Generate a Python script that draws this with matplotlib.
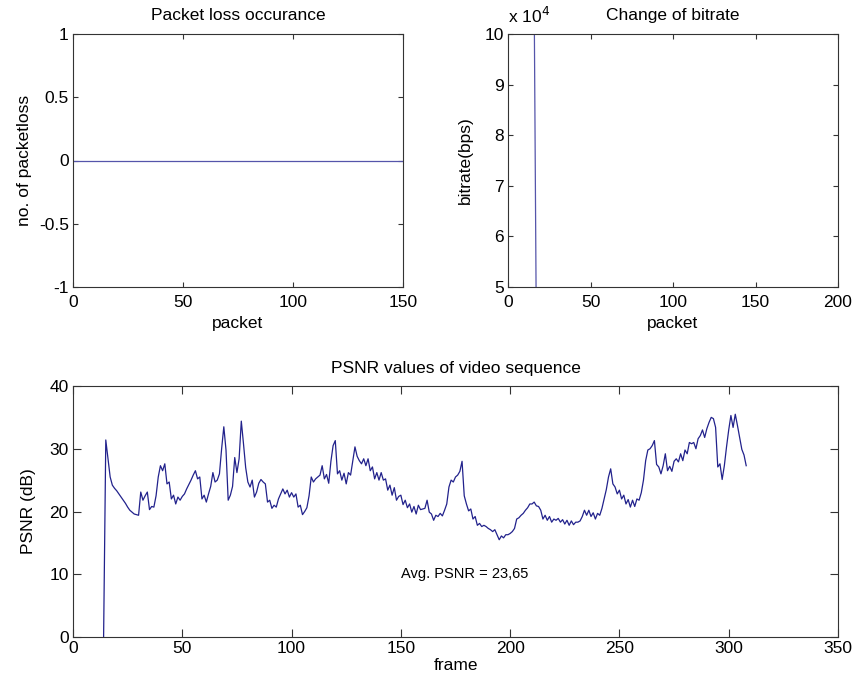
import matplotlib
matplotlib.use("Agg")
import matplotlib.pyplot as plt
from matplotlib.ticker import FuncFormatter, FixedLocator

plt.rcParams['font.family'] = ['Liberation Sans', 'DejaVu Sans']
plt.rcParams['axes.unicode_minus'] = False
plt.rcParams['font.size'] = 12.5

# ---- data ----
loss_packets = list(range(0, 151))
loss_counts = [0] * 151

bitrate_packets = [14, 15, 16, 17, 18]
bitrate_values = [200000, 150000, 100000, 50000, 0]

psnr_start_frame = 14
psnr_values = [
    0.0, 31.4, 28.5, 25.5, 24.2, 23.7, 23.3, 22.8, 22.3, 21.8,   # 14-23
    21.3, 20.7, 20.2, 19.9, 19.6, 19.5, 19.4, 23.1, 21.8, 22.5,   # 24-33
    23.1, 20.3, 20.8, 20.7, 22.5, 25.5, 27.3, 26.5, 27.6, 24.4,   # 34-43
    24.7, 22.0, 22.6, 21.2, 22.3, 21.8, 22.4, 22.8, 23.6, 24.3,   # 44-53
    25.0, 25.8, 26.5, 25.2, 25.5, 22.0, 22.6, 21.5, 22.8, 24.0,   # 54-63
    26.2, 24.7, 25.0, 26.0, 30.0, 33.5, 29.8, 21.8, 22.6, 24.0,   # 64-73
    28.6, 26.2, 28.4, 34.4, 30.8, 27.0, 24.7, 23.9, 25.0, 22.3,   # 74-83
    23.1, 24.5, 25.1, 24.7, 24.4, 21.5, 21.8, 20.5, 21.0, 20.7,   # 84-93
    22.0, 22.8, 23.6, 22.8, 23.4, 22.3, 23.0, 22.3, 22.8, 20.7,   # 94-103
    21.0, 19.5, 20.0, 20.6, 22.5, 25.5, 24.7, 25.2, 25.5, 25.8,   # 104-113
    27.3, 25.2, 25.9, 24.5, 28.0, 30.5, 31.3, 26.0, 26.5, 25.0,   # 114-123
    26.1, 24.4, 26.2, 25.8, 28.1, 30.3, 28.8, 28.1, 27.6, 28.4,   # 124-133
    27.3, 28.4, 26.5, 27.1, 25.2, 26.2, 25.0, 26.2, 25.0, 25.2,   # 134-143
    23.4, 24.2, 22.6, 23.8, 21.8, 22.4, 22.6, 21.1, 21.8, 20.6,   # 144-153
    21.2, 19.9, 20.8, 19.6, 21.0, 20.3, 20.4, 20.5, 21.8, 19.9,   # 154-163
    19.6, 18.6, 19.4, 19.2, 19.7, 19.3, 20.2, 21.2, 23.9, 25.0,   # 164-173
    24.7, 25.5, 25.8, 26.4, 28.0, 22.5, 21.2, 20.1, 20.4, 18.8,   # 174-183
    19.2, 17.8, 18.1, 17.6, 17.8, 17.6, 17.3, 17.1, 16.8, 17.1,   # 184-193
    16.3, 15.5, 16.1, 15.8, 16.3, 16.3, 16.5, 16.8, 17.3, 18.8,   # 194-203
    19.0, 19.4, 19.7, 20.2, 20.6, 21.2, 21.2, 21.5, 20.9, 20.8,   # 204-213
    20.2, 18.8, 19.4, 18.6, 19.2, 18.3, 18.8, 18.6, 18.9, 18.3,   # 214-223
    18.7, 18.0, 18.6, 17.8, 18.5, 17.9, 18.3, 18.3, 18.5, 19.2,   # 224-233
    20.2, 19.4, 20.2, 19.2, 19.8, 18.8, 19.7, 19.4, 20.5, 22.0,   # 234-243
    23.5, 25.5, 26.8, 24.4, 23.9, 22.8, 23.4, 22.0, 22.6, 21.2,   # 244-253
    21.9, 20.7, 21.8, 20.8, 22.0, 21.8, 23.0, 25.0, 28.1, 29.8,   # 254-263
    30.0, 30.5, 31.3, 27.5, 27.1, 26.0, 27.3, 29.2, 26.5, 27.2,   # 264-273
    26.4, 28.0, 28.4, 27.9, 29.2, 28.1, 29.8, 29.2, 31.0, 30.8,   # 274-283
    31.0, 30.0, 31.6, 32.1, 33.0, 31.8, 33.2, 34.2, 35.0, 34.8,   # 284-293
    33.4, 27.1, 27.6, 25.1, 27.3, 30.3, 33.0, 35.3, 33.4, 35.5,   # 294-303
    33.7, 31.8, 29.9, 29.0, 27.3,                                 # 304-308
]
psnr_frames = list(range(psnr_start_frame, psnr_start_frame + len(psnr_values)))
avg_psnr_label = "Avg. PSNR = 23,65"

loss_yticks = [-1, -0.5, 0, 0.5, 1]
loss_xticks = [0, 50, 100, 150]
bitrate_yticks = [50000, 60000, 70000, 80000, 90000, 100000]
bitrate_xticks = [0, 50, 100, 150, 200]
psnr_xticks = [0, 50, 100, 150, 200, 250, 300, 350]
psnr_yticks = [0, 10, 20, 30, 40]

# ---- figure ----
W, H = 860, 687
fig = plt.figure(figsize=(W / 100, H / 100), dpi=100)
line_color = '#22228c'
FS = 12.5

def style(ax, tlen):
    ax.tick_params(direction='in', top=True, right=True, length=tlen, width=0.8,
                   labelsize=FS, colors='#333333', labelcolor='black')
    ax.tick_params(axis='x', pad=6)
    ax.tick_params(axis='y', pad=3)
    for s in ax.spines.values():
        s.set_color('#333333')
        s.set_linewidth(0.8)

g = FuncFormatter(lambda v, p: '%g' % v)

ax1 = fig.add_axes([73 / W, 1 - 287 / H, 330 / W, 253 / H])
ax1.plot(loss_packets, loss_counts, color='#5555aa', lw=0.9)
ax1.set_xlim(0, 150)
ax1.set_ylim(-1, 1)
ax1.xaxis.set_major_locator(FixedLocator(loss_xticks))
ax1.yaxis.set_major_locator(FixedLocator(loss_yticks))
ax1.xaxis.set_major_formatter(g)
ax1.yaxis.set_major_formatter(g)
ax1.set_title('Packet loss occurance', fontsize=FS, pad=10)
ax1.set_xlabel('packet', fontsize=FS, labelpad=4)
ax1.set_ylabel('no. of packetloss', fontsize=FS, labelpad=5)
style(ax1, 3.8)

ax2 = fig.add_axes([508 / W, 1 - 287 / H, 330 / W, 253 / H])
ax2.plot(bitrate_packets, bitrate_values, color='#5555aa', lw=0.9)
ax2.set_xlim(0, 200)
ax2.set_ylim(50000, 100000)
ax2.xaxis.set_major_locator(FixedLocator(bitrate_xticks))
ax2.yaxis.set_major_locator(FixedLocator(bitrate_yticks))
ax2.xaxis.set_major_formatter(g)
ax2.yaxis.set_major_formatter(FuncFormatter(lambda v, p: '%g' % (v / 1e4)))
ax2.set_title('Change of bitrate', fontsize=FS, pad=10)
ax2.set_xlabel('packet', fontsize=FS, labelpad=4)
ax2.set_ylabel('bitrate(bps)', fontsize=FS, labelpad=8)
ax2.text(0.0, 1.03, r'x 10$^{4}$', transform=ax2.transAxes, fontsize=FS,
         ha='left', va='bottom')
style(ax2, 3.8)

ax3 = fig.add_axes([73 / W, 1 - 637 / H, 765 / W, 251 / H])
ax3.plot(psnr_frames, psnr_values, color=line_color, lw=0.9)
ax3.set_xlim(0, 350)
ax3.set_ylim(0, 40)
ax3.xaxis.set_major_locator(FixedLocator(psnr_xticks))
ax3.yaxis.set_major_locator(FixedLocator(psnr_yticks))
ax3.xaxis.set_major_formatter(g)
ax3.yaxis.set_major_formatter(g)
ax3.set_title('PSNR values of video sequence', fontsize=FS, pad=9)
ax3.set_xlabel('frame', fontsize=FS, labelpad=1)
ax3.set_ylabel('PSNR (dB)', fontsize=FS, labelpad=10)
ax3.text(150, 10, avg_psnr_label, fontsize=10.5, ha='left', va='center')
style(ax3, 5.5)
ax3.tick_params(axis='x', pad=3)

fig.savefig('out.png', dpi=100, facecolor='white')
